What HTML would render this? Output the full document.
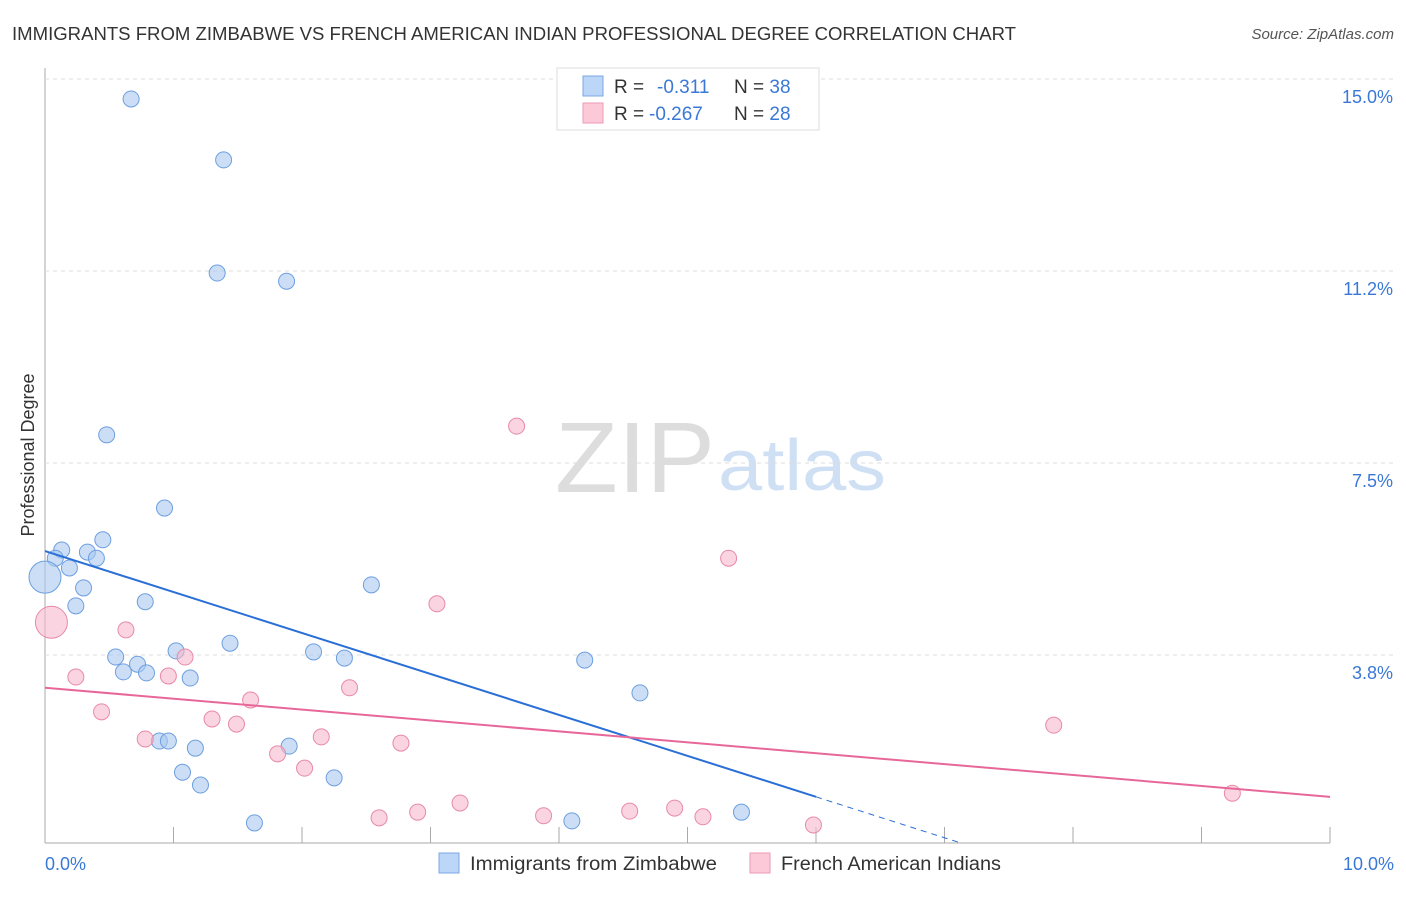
<!DOCTYPE html>
<html><head><meta charset="utf-8"><style>
body{margin:0;background:#fff;font-family:"Liberation Sans",sans-serif;}
svg text{font-family:"Liberation Sans",sans-serif;}
</style></head><body>
<svg id="c" width="1406" height="892">
<text x="12" y="40" font-size="18" fill="#333" textLength="1004" lengthAdjust="spacingAndGlyphs">IMMIGRANTS FROM ZIMBABWE VS FRENCH AMERICAN INDIAN PROFESSIONAL DEGREE CORRELATION CHART</text>
<text x="1394" y="39" font-size="15" fill="#555" font-style="italic" text-anchor="end">Source: ZipAtlas.com</text>
<text x="555" y="492" font-size="100" fill="#ddd" font-family="Liberation Serif" textLength="160" lengthAdjust="spacingAndGlyphs">ZIP</text>
<text x="718" y="490" font-size="72" fill="#cfe0f5" textLength="168" lengthAdjust="spacingAndGlyphs">atlas</text>
<text transform="translate(34,455) rotate(-90)" font-size="18" fill="#333" text-anchor="middle">Professional Degree</text>
<g id="grid"></g><g id="marks"></g>
<g>
<rect x="557" y="68" width="262" height="62" fill="#fff" stroke="#ddd"/>
<rect x="583" y="76" width="20" height="20" fill="#bcd6f7" stroke="#7aa7e4"/>
<rect x="583" y="103" width="20" height="20" fill="#fcc9d8" stroke="#ee9ab5"/>
<text x="614" y="93" font-size="19" fill="#333">R =</text>
<text x="657" y="93" font-size="19" fill="#3a78d8">-0.311</text>
<text x="734" y="93" font-size="19" fill="#333">N = <tspan fill="#3a78d8">38</tspan></text>
<text x="614" y="120" font-size="19" fill="#333">R =</text>
<text x="649" y="120" font-size="19" fill="#3a78d8">-0.267</text>
<text x="734" y="120" font-size="19" fill="#333">N = <tspan fill="#3a78d8">28</tspan></text>
</g>
<g>
<rect x="439" y="853" width="20" height="20" fill="#bcd6f7" stroke="#7aa7e4"/>
<text x="470" y="870" font-size="19" fill="#333" textLength="247" lengthAdjust="spacingAndGlyphs">Immigrants from Zimbabwe</text>
<rect x="750" y="853" width="20" height="20" fill="#fcc9d8" stroke="#ee9ab5"/>
<text x="781" y="870" font-size="19" fill="#333" textLength="220" lengthAdjust="spacingAndGlyphs">French American Indians</text>
</g>
</svg>
<script>
const xTicks=[0,1,2,3,4,5,6,7,8,9,10];
const yTicks=[3.75,7.5,11.25,15];
const yTickLabels=["3.8%","7.5%","11.2%","15.0%"];
const blueX=[0.67,1.39,1.34,1.88,0.48,0.93,0.45,0.13,0.33,0.08,0.40,0.19,0.30,0.0,0.24,0.78,2.54,1.44,1.02,2.09,2.33,0.55,0.72,0.61,0.79,1.13,4.20,4.63,0.89,0.96,1.17,1.90,1.07,1.21,2.25,1.63,4.10,5.42];
const blueY=[14.61,13.42,11.21,11.05,8.05,6.62,6.00,5.80,5.76,5.64,5.64,5.45,5.06,5.27,4.71,4.79,5.12,3.98,3.83,3.81,3.69,3.71,3.57,3.42,3.40,3.30,3.65,3.01,2.07,2.07,1.93,1.97,1.46,1.21,1.35,0.47,0.51,0.68];
const blueBig=[13];
const pinkX=[0.05,3.67,5.32,3.05,0.63,1.09,0.24,0.96,2.37,1.60,0.44,1.30,1.49,7.85,0.78,2.15,2.77,1.81,2.02,9.24,3.23,2.90,2.60,3.88,4.55,4.90,5.12,5.98];
const pinkY=[4.39,8.22,5.64,4.75,4.24,3.71,3.32,3.34,3.11,2.87,2.64,2.50,2.40,2.38,2.11,2.15,2.03,1.82,1.54,1.05,0.86,0.68,0.57,0.61,0.70,0.76,0.59,0.43];
const pinkBig=[0];
const blueTrend=[5.78,0.98]; const blueTrendEnd=6.0; const blueDashEnd=7.12;
const pinkTrend=[3.11,0.98];
const X=v=>45+v*128.5, Y=v=>847-v*51.2;
const NS="http://www.w3.org/2000/svg";
function mk(p,t,a){const e=document.createElementNS(NS,t);for(const k in a)e.setAttribute(k,a[k]);p.appendChild(e);return e;}
const g=document.getElementById('grid'),m=document.getElementById('marks');
let ax=mk(g,'line',{x1:45,y1:68,x2:45,y2:843,stroke:'#aaa'});


let bx=mk(g,'line',{x1:45,y1:843,x2:1330,y2:843,stroke:'#aaa'});


yTicks.forEach((t,i)=>{
 let l=mk(g,'line',{x1:45,x2:1394,y1:Y(t),y2:Y(t),stroke:'#ddd','stroke-dasharray':'4,4'});
 
 
 let tx=mk(g,'text',{x:1393,y:Y(t)+24,'font-size':18,fill:'#3a78d8','text-anchor':'end'});tx.textContent=yTickLabels[i];
 
 
});
xTicks.forEach(t=>{let l=mk(g,'line',{x1:X(t),x2:X(t),y1:827,y2:843,stroke:'#aaa'});
 
 });
let x0=mk(g,'text',{x:45,y:870,'font-size':18,fill:'#3a78d8'});x0.textContent='0.0%';


let x1=mk(g,'text',{x:1394,y:870,'font-size':18,fill:'#3a78d8','text-anchor':'end'});x1.textContent='10.0%';


blueX.forEach((v,i)=>{let c=mk(m,'circle',{cx:X(v),cy:Y(blueY[i]),r:blueBig.includes(i)?16:8,fill:'rgba(168,200,240,0.6)',stroke:'#6d9fe0','stroke-width':1});
 
 });
pinkX.forEach((v,i)=>{let c=mk(m,'circle',{cx:X(v),cy:Y(pinkY[i]),r:pinkBig.includes(i)?16:8,fill:'rgba(247,184,204,0.6)',stroke:'#e88aa8','stroke-width':1});
 
 });
const bAt=x=>blueTrend[0]+(blueTrend[1]-blueTrend[0])*x/blueTrendEnd;
let bl=mk(m,'line',{x1:X(0),y1:Y(bAt(0)),x2:X(blueTrendEnd),y2:Y(bAt(blueTrendEnd)),stroke:'#2a6fd6','stroke-width':2});


let bd=mk(m,'line',{x1:X(blueTrendEnd),y1:Y(bAt(blueTrendEnd)),x2:X(blueDashEnd),y2:Y(bAt(blueDashEnd)),stroke:'#2a6fd6','stroke-width':1,'stroke-dasharray':'6,5'});


let pl=mk(m,'line',{x1:X(0),y1:Y(pinkTrend[0]),x2:X(10),y2:Y(pinkTrend[1]),stroke:'#e8679a','stroke-width':2});


</script>
</body></html>
